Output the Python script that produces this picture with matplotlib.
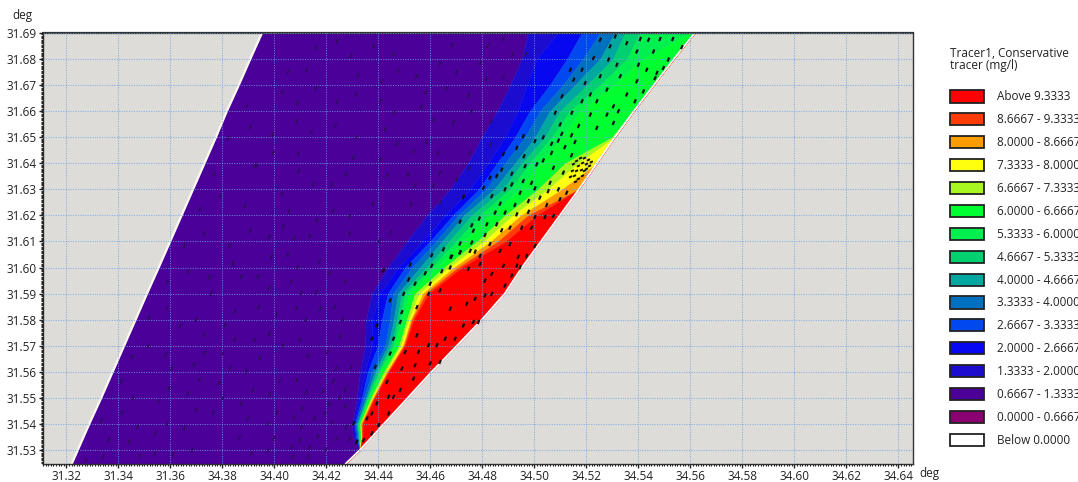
import matplotlib
matplotlib.use("Agg")
import matplotlib.pyplot as plt
from matplotlib.patches import Patch
from matplotlib.ticker import MultipleLocator

plt.rcParams['font.family'] = ['Open Sans', 'DejaVu Sans']

# latitude rows the contour edges were read at
lat_rows = [31.5248, 31.53, 31.535, 31.54, 31.55, 31.56, 31.57, 31.58, 31.59, 31.60,
            31.61, 31.62, 31.63, 31.64, 31.65, 31.66, 31.67, 31.68, 31.69]

west_edge = [34.3221, 34.3244, 34.3266, 34.3288, 34.3334, 34.3378, 34.3422, 34.3466, 34.3510, 34.3555,
             34.3599, 34.3643, 34.3687, 34.3731, 34.3775, 34.3817, 34.3863, 34.3907, 34.3952]
coast = [34.4275, 34.4329, 34.4375, 34.4421, 34.4513, 34.4605, 34.4702, 34.4798, 34.4886, 34.4952,
         34.5025, 34.5098, 34.5171, 34.5240, 34.5309, 34.5382, 34.5459, 34.5536, 34.5617]

# longitude of each isoline per row
iso_1333 = [34.4275, 34.4329, 34.4302, 34.4298, 34.4317, 34.4329, 34.4348, 34.4352, 34.4375, 34.4436,
            34.4509, 34.4586, 34.4675, 34.4744, 34.4798, 34.4856, 34.4906, 34.4952, 34.4975]
iso_2000 = [34.4275, 34.4329, 34.4309, 34.4306, 34.4329, 34.4348, 34.4375, 34.4375, 34.4406, 34.4475,
            34.4571, 34.4656, 34.4752, 34.4821, 34.4886, 34.4936, 34.4971, 34.5009, 34.5090]
iso_2667 = [34.4275, 34.4329, 34.4313, 34.4309, 34.4336, 34.4359, 34.4398, 34.4413, 34.4436, 34.4502,
            34.4598, 34.4686, 34.4786, 34.4856, 34.4925, 34.4982, 34.5059, 34.5125, 34.5182]
iso_3333 = [34.4275, 34.4329, 34.4317, 34.4313, 34.4344, 34.4375, 34.4425, 34.4444, 34.4456, 34.4529,
            34.4621, 34.4706, 34.4813, 34.4886, 34.4963, 34.5021, 34.5109, 34.5186, 34.5252]
iso_4000 = [34.4275, 34.4329, 34.4321, 34.4317, 34.4352, 34.4386, 34.4436, 34.4459, 34.4475, 34.4559,
            34.4644, 34.4729, 34.4844, 34.4925, 34.5002, 34.5059, 34.5155, 34.5252, 34.5309]
iso_4667 = [34.4275, 34.4329, 34.4325, 34.4321, 34.4356, 34.4394, 34.4448, 34.4471, 34.4490, 34.4586,
            34.4671, 34.4759, 34.4879, 34.4952, 34.5040, 34.5098, 34.5202, 34.5302, 34.5348]
iso_5333 = [34.4275, 34.4329, 34.4325, 34.4321, 34.4359, 34.4402, 34.4456, 34.4482, 34.4502, 34.4605,
            34.4698, 34.4790, 34.4906, 34.4982, 34.5067, 34.5136, 34.5252, 34.5356, 34.5406]
iso_6000 = [34.4275, 34.4329, 34.4329, 34.4325, 34.4363, 34.4409, 34.4463, 34.4494, 34.4517, 34.4625,
            34.4725, 34.4829, 34.4944, 34.5021, 34.5106, 34.5175, 34.5305, 34.5417, 34.5598]
iso_6667 = [34.4275, 34.4329, 34.4332, 34.4329, 34.4371, 34.4421, 34.4479, 34.4509, 34.4540, 34.4652,
            34.4779, 34.4886, 34.5013, 34.5117, 34.5298, 34.5382, 34.5459, 34.5536, 34.5617]
iso_7333 = [34.4275, 34.4329, 34.4332, 34.4332, 34.4375, 34.4429, 34.4486, 34.4517, 34.4556, 34.4671,
            34.4806, 34.4917, 34.5052, 34.5167, 34.5309, 34.5382, 34.5459, 34.5536, 34.5617]
iso_8000 = [34.4275, 34.4329, 34.4336, 34.4332, 34.4379, 34.4432, 34.4494, 34.4525, 34.4571, 34.4690,
            34.4832, 34.4948, 34.5106, 34.5240, 34.5309, 34.5382, 34.5459, 34.5536, 34.5617]
iso_8667 = [34.4275, 34.4329, 34.4336, 34.4336, 34.4382, 34.4436, 34.4498, 34.4529, 34.4582, 34.4706,
            34.4860, 34.4975, 34.5171, 34.5240, 34.5309, 34.5382, 34.5459, 34.5536, 34.5617]
iso_9333 = [34.4275, 34.4329, 34.4340, 34.4340, 34.4386, 34.4440, 34.4502, 34.4536, 34.4594, 34.4721,
            34.4890, 34.5009, 34.5171, 34.5240, 34.5309, 34.5382, 34.5459, 34.5536, 34.5617]

edges = [west_edge, iso_1333, iso_2000, iso_2667, iso_3333, iso_4000, iso_4667, iso_5333,
         iso_6000, iso_6667, iso_7333, iso_8000, iso_8667, iso_9333, coast]

band_labels = ["Above 9.3333", "8.6667 - 9.3333", "8.0000 - 8.6667", "7.3333 - 8.0000",
               "6.6667 - 7.3333", "6.0000 - 6.6667", "5.3333 - 6.0000", "4.6667 - 5.3333",
               "4.0000 - 4.6667", "3.3333 - 4.0000", "2.6667 - 3.3333", "2.0000 - 2.6667",
               "1.3333 - 2.0000", "0.6667 - 1.3333", "0.0000 - 0.6667", "Below 0.0000"]
band_colors = ["#ff0000", "#ff3c08", "#ff9c00", "#ffff10", "#a8f820", "#00ff30", "#00f050", "#00d070",
               "#00a8a0", "#0070c0", "#0048f0", "#0808f0", "#1c0cd0", "#4b0099", "#8b0070", "#ffffff"]

# velocity marks, open water
water_lon = [34.3655, 34.3828, 34.3988, 34.4052, 34.3841, 34.4090, 34.4173, 34.3668, 34.3751, 34.3873,
             34.3937, 34.4065, 34.4212, 34.4273, 34.3587, 34.3979, 34.3757, 34.4103, 34.4161, 34.3587,
             34.3847, 34.3939, 34.4084, 34.4176, 34.4231, 34.3517, 34.3700, 34.4007, 34.4122, 34.4263,
             34.3636, 34.3809, 34.3728, 34.3847, 34.3924, 34.3981, 34.4097, 34.4254, 34.3514, 34.4033,
             34.3453, 34.3582, 34.3732, 34.3802, 34.4129, 34.3943, 34.4203, 34.3691, 34.3830, 34.3892,
             34.3604, 34.4237, 34.4295, 34.3412, 34.3713, 34.3787, 34.4020, 34.4086, 34.4227, 34.3595,
             34.3917, 34.4122, 34.4186, 34.4273, 34.3668, 34.3457, 34.3555, 34.3802, 34.3981, 34.4250,
             34.3873, 34.4107, 34.4212, 34.4273, 34.3700, 34.3414, 34.3766, 34.4011, 34.4195, 34.3335,
             34.3587, 34.3472, 34.3655, 34.3898, 34.3975, 34.4075, 34.4154, 34.4222, 34.4276, 34.4103,
             34.3542, 34.3363, 34.3440, 34.3866, 34.4099, 34.4167, 34.4237, 34.4288, 34.3998, 34.3683,
             34.3911, 34.3975, 34.4065, 34.4135, 34.4199, 34.3341, 34.3482, 34.3540, 34.3610, 34.4071,
             34.4129, 34.3275,
             34.4159, 34.4241, 34.4296, 34.4382, 34.4459, 34.4053, 34.4124, 34.4322, 34.4415, 34.4476,
             34.4546, 34.4636, 34.4700, 34.4792, 34.4815, 34.4881, 34.4684, 34.4821, 34.4879, 34.4915,
             34.4966, 34.4031, 34.4158, 34.4313, 34.4408, 34.4089, 34.4241, 34.4582, 34.4747, 34.4661,
             34.4565, 34.4460, 34.4757, 34.4085, 34.4235, 34.4143, 34.4427, 34.4613, 34.4689, 34.4834,
             34.3993, 34.4313, 34.4584, 34.4472, 34.3996, 34.4092, 34.4305, 34.4408, 34.4536, 34.4629,
             34.4751, 34.4830, 34.4092, 34.4275, 34.4433, 34.4514, 34.4748, 34.4636, 34.3925, 34.4149,
             34.4222, 34.4542, 34.4613, 34.4702, 34.4030, 34.4380, 34.4524, 34.4638, 34.4729, 34.4056,
             34.4226, 34.4290, 34.4162, 34.4034, 34.4290, 34.4447, 34.3980, 34.4076, 34.4136, 34.4403,
             34.3895, 34.3907, 34.3822, 34.3768, 34.3791, 34.3714, 34.3887, 34.3729, 34.3907, 34.3930]
water_lat = [31.6084, 31.6084, 31.6042, 31.6049, 31.6016, 31.6001, 31.6024, 31.5986, 31.5963, 31.5965,
             31.5965, 31.5947, 31.5979, 31.5946, 31.5944, 31.5921, 31.5899, 31.5902, 31.5905, 31.5844,
             31.5831, 31.5848, 31.5844, 31.5842, 31.5848, 31.5807, 31.5801, 31.5820, 31.5800, 31.5803,
             31.5775, 31.5778, 31.5742, 31.5724, 31.5723, 31.5746, 31.5723, 31.5736, 31.5698, 31.5701,
             31.5657, 31.5666, 31.5672, 31.5672, 31.5663, 31.5654, 31.5676, 31.5627, 31.5615, 31.5602,
             31.5612, 31.5612, 31.5618, 31.5564, 31.5570, 31.5557, 31.5567, 31.5567, 31.5564, 31.5536,
             31.5529, 31.5523, 31.5525, 31.5532, 31.5517, 31.5500, 31.5487, 31.5500, 31.5514, 31.5500,
             31.5478, 31.5459, 31.5476, 31.5469, 31.5453, 31.5443, 31.5443, 31.5444, 31.5440, 31.5411,
             31.5402, 31.5389, 31.5383, 31.5421, 31.5402, 31.5425, 31.5421, 31.5406, 31.5389, 31.5386,
             31.5363, 31.5338, 31.5332, 31.5348, 31.5338, 31.5351, 31.5341, 31.5341, 31.5344, 31.5300,
             31.5287, 31.5297, 31.5312, 31.5310, 31.5302, 31.5274, 31.5278, 31.5287, 31.5284, 31.5274,
             31.5274, 31.5259,
             31.6844, 31.6869, 31.6813, 31.6851, 31.6820, 31.6752, 31.6758, 31.6737, 31.6714, 31.6756,
             31.6733, 31.6781, 31.6749, 31.6784, 31.6723, 31.6733, 31.6854, 31.6851, 31.6877, 31.6816,
             31.6818, 31.6672, 31.6688, 31.6663, 31.6640, 31.6633, 31.6637, 31.6672, 31.6660, 31.6688,
             31.6616, 31.6595, 31.6599, 31.6561, 31.6545, 31.6519, 31.6531, 31.6567, 31.6558, 31.6561,
             31.6510, 31.6500, 31.6484, 31.6474, 31.6440, 31.6437, 31.6423, 31.6414, 31.6446, 31.6440,
             31.6440, 31.6472, 31.6370, 31.6359, 31.6354, 31.6357, 31.6380, 31.6363, 31.6391, 31.6321,
             31.6319, 31.6316, 31.6316, 31.6338, 31.6283, 31.6245, 31.6242, 31.6248, 31.6271, 31.6217,
             31.6217, 31.6197, 31.6181, 31.6157, 31.6131, 31.6136, 31.6117, 31.6114, 31.6121, 31.6102,
             31.6623, 31.6539, 31.6497, 31.6359, 31.6275, 31.6225, 31.6237, 31.6130, 31.6141, 31.6390]

# velocity marks inside the plume
plume_lon = [34.4714, 34.4682, 34.4772, 34.4644, 34.4580, 34.4516, 34.4420, 34.4522, 34.4746, 34.4836,
             34.4810, 34.4945, 34.4913, 34.4887, 34.4836, 34.4810, 34.4599, 34.4541, 34.4445, 34.4497,
             34.4490, 34.4548, 34.4593, 34.4637, 34.4676, 34.4740, 34.4772, 34.4785, 34.4765, 34.4727,
             34.4657, 34.4695, 34.4625, 34.4593, 34.4548, 34.4484, 34.4458, 34.4394, 34.4375, 34.4503,
             34.4554, 34.4599, 34.4637, 34.4541, 34.4445, 34.4388, 34.4433, 34.4490, 34.4535, 34.4484,
             34.4439, 34.4394, 34.4458, 34.4375, 34.4356, 34.4401, 34.4439, 34.4305, 34.4375, 34.4317,
             34.4343,
             34.5105, 34.5034, 34.4957, 34.5143, 34.5066, 34.5002, 34.4932, 34.5156, 34.5117, 34.5092,
             34.5066, 34.5143, 34.4960, 34.5034, 34.4881, 34.4874, 34.4913, 34.4964, 34.5009, 34.5073,
             34.5111, 34.4829, 34.4855, 34.4913, 34.4957, 34.4989, 34.5060, 34.5092, 34.5053, 34.5002,
             34.4945, 34.4887, 34.4836, 34.4804, 34.4868, 34.4925, 34.4977, 34.5021, 34.5098, 34.5124,
             34.5047, 34.4977, 34.4932, 34.4887, 34.4849, 34.4788, 34.4727, 34.4759, 34.4714, 34.4817,
             34.4855, 34.4906, 34.5002, 34.5041, 34.5073, 34.4951, 34.4989, 34.4810, 34.4874, 34.4765,
             34.4829, 34.4759, 34.4714, 34.4650, 34.4906, 34.4791, 34.4753, 34.4714, 34.4678, 34.4605,
             34.4868, 34.4938, 34.5002, 34.4970, 34.4791, 34.4676, 34.4605, 34.4932, 34.4881,
             34.5253, 34.5311, 34.5355, 34.5407, 34.5439, 34.5483, 34.5532, 34.5567, 34.5394, 34.5291,
             34.5515, 34.5458, 34.5432, 34.5400, 34.5471, 34.5496, 34.5317, 34.5285, 34.5227, 34.5183,
             34.5138, 34.5253, 34.5330, 34.5394, 34.5464, 34.5195, 34.5106, 34.5151, 34.5215, 34.5279,
             34.5355, 34.5419, 34.5387, 34.5183, 34.5240, 34.5304, 34.5323, 34.5080, 34.5144, 34.5215,
             34.5279, 34.5099, 34.5170, 34.5240, 34.5304]
plume_lat = [31.6059, 31.6042, 31.6061, 31.5986, 31.5978, 31.5954, 31.5989, 31.6011, 31.5995, 31.5976,
             31.5950, 31.6001, 31.5969, 31.5931, 31.5899, 31.5893, 31.5938, 31.5938, 31.5874, 31.5899,
             31.5829, 31.5848, 31.5899, 31.5912, 31.5842, 31.5861, 31.5880, 31.5791, 31.5791, 31.5778,
             31.5727, 31.5727, 31.5702, 31.5702, 31.5740, 31.5791, 31.5727, 31.5778, 31.5727, 31.5676,
             31.5676, 31.5632, 31.5638, 31.5625, 31.5670, 31.5619, 31.5561, 31.5612, 31.5574, 31.5530,
             31.5504, 31.5479, 31.5504, 31.5440, 31.5421, 31.5396, 31.5440, 31.5402, 31.5364, 31.5332,
             31.5338,
             31.6513, 31.6500, 31.6504, 31.6508, 31.6475, 31.6485, 31.6459, 31.6482, 31.6462, 31.6487,
             31.6440, 31.6431, 31.6427, 31.6411, 31.6436, 31.6376, 31.6360, 31.6389, 31.6396, 31.6383,
             31.6364, 31.6345, 31.6351, 31.6319, 31.6332, 31.6325, 31.6325, 31.6300, 31.6293, 31.6304,
             31.6287, 31.6300, 31.6274, 31.6306, 31.6245, 31.6240, 31.6255, 31.6268, 31.6262, 31.6287,
             31.6240, 31.6214, 31.6204, 31.6211, 31.6211, 31.6188, 31.6271, 31.6162, 31.6176, 31.6166,
             31.6166, 31.6153, 31.6194, 31.6194, 31.6198, 31.6153, 31.6153, 31.6125, 31.6143, 31.6141,
             31.6090, 31.6096, 31.6092, 31.6070, 31.6090, 31.6045, 31.6064, 31.6058, 31.6041, 31.6047,
             31.6064, 31.6041, 31.6083, 31.6045, 31.6013, 31.6000, 31.6007, 31.6007, 31.6007,
             31.6874, 31.6887, 31.6861, 31.6877, 31.6874, 31.6877, 31.6877, 31.6846, 31.6829, 31.6849,
             31.6798, 31.6829, 31.6759, 31.6778, 31.6747, 31.6766, 31.6778, 31.6798, 31.6804, 31.6759,
             31.6759, 31.6734, 31.6734, 31.6715, 31.6727, 31.6708, 31.6657, 31.6721, 31.6664, 31.6683,
             31.6664, 31.6676, 31.6638, 31.6638, 31.6638, 31.6619, 31.6600, 31.6594, 31.6594, 31.6587,
             31.6587, 31.6549, 31.6543, 31.6536, 31.6555]

# tight eddy at the outfall
eddy_lon = [34.5150, 34.5162, 34.5177, 34.5192, 34.5208, 34.5219, 34.5169, 34.5185, 34.5200, 34.5162,
            34.5154, 34.5169, 34.5185, 34.5181, 34.5192, 34.5146, 34.5139, 34.5158, 34.5212, 34.5200]
eddy_lat = [31.6397, 31.6409, 31.6420, 31.6420, 31.6413, 31.6405, 31.6390, 31.6401, 31.6397, 31.6371,
            31.6352, 31.6340, 31.6352, 31.6374, 31.6371, 31.6371, 31.6348, 31.6329, 31.6390, 31.6378]

x_ticks = [34.32, 34.34, 34.36, 34.38, 34.40, 34.42, 34.44, 34.46, 34.48, 34.50,
           34.52, 34.54, 34.56, 34.58, 34.60, 34.62, 34.64]
x_labels = ["31.32", "31.34", "31.36", "34.38", "34.40", "34.42", "34.44", "34.46", "34.48", "34.50",
            "34.52", "34.54", "34.56", "34.58", "34.60", "34.62", "34.64"]
y_ticks = [31.53, 31.54, 31.55, 31.56, 31.57, 31.58, 31.59, 31.60, 31.61, 31.62,
           31.63, 31.64, 31.65, 31.66, 31.67, 31.68, 31.69]


def draw_marks(ax, lon, lat, u, v, width, color):
    ax.quiver(lon, lat, u, v, angles="uv", units="dots", scale_units="dots", scale=1, width=width,
              headwidth=1, headlength=0, headaxislength=0, pivot="mid", color=color, zorder=3)


def main():
    fig = plt.figure(figsize=(10.78, 4.82), dpi=100)
    ax = fig.add_axes([42.5 / 1078, 1 - 463.5 / 482, (913 - 42.5) / 1078, (463.5 - 33) / 482])
    ax.set_facecolor("#dedcd9")

    # lowest band is the west-most, so walk the colours backwards
    contour_colors = band_colors[:-2][::-1]
    for i, color in enumerate(contour_colors):
        ax.fill_betweenx(lat_rows, edges[i], edges[i + 1], color=color, lw=0.3, zorder=1)

    ax.plot(west_edge, lat_rows, color="#fbfbf0", lw=1.6, zorder=2)
    ax.plot(coast, lat_rows, color="#f4fbfb", lw=1.4, zorder=2)

    draw_marks(ax, water_lon, water_lat, 2.0, 4.5, 1.6, "#2c1058")
    draw_marks(ax, plume_lon, plume_lat, 1.7, 4.0, 2.2, "#101010")
    draw_marks(ax, eddy_lon, eddy_lat, 3.0, 1.5, 2.0, "#181408")

    ax.set_xlim(34.3108, 34.6456)
    ax.set_ylim(31.5248, 31.69)
    ax.set_xticks(x_ticks)
    ax.set_xticklabels(x_labels)
    ax.set_yticks(y_ticks)
    ax.set_yticklabels([f"{t:.2f}" for t in y_ticks])
    ax.xaxis.set_minor_locator(MultipleLocator(0.001))
    ax.yaxis.set_minor_locator(MultipleLocator(0.0005))
    ax.tick_params(axis="y", which="major", length=3, width=1, pad=1, labelsize=8.5, colors="#222222")
    ax.tick_params(axis="x", which="major", length=3, width=1, pad=1.5, labelsize=8.5, colors="#222222")
    ax.tick_params(which="minor", length=1.5, width=0.8, color="#222222")
    ax.set_axisbelow(False)
    ax.grid(True, which="major", color="#6ba6e2", lw=0.8, ls=(0, (1, 1.2)), alpha=0.75, zorder=4)
    for spine in ax.spines.values():
        spine.set_color("#333333")
        spine.set_linewidth(1.0)
    ax.spines["top"].set_linewidth(1.6)

    fig.text(12 / 1078, 1 - 15 / 482, "deg", fontsize=8.5, va="center", color="#222222")
    fig.text(919 / 1078, 1 - 473 / 482, "deg", fontsize=8.5, va="center", color="#222222")

    handles = [Patch(facecolor=c, edgecolor="#222222", lw=1.3) for c in band_colors]
    leg = fig.legend(handles=handles, labels=band_labels, title="Tracer1, Conservative\ntracer (mg/l)",
                     loc="upper left", bbox_to_anchor=(950 / 1078, 1 - 47 / 482), frameon=False,
                     borderpad=0, borderaxespad=0, fontsize=8.5, title_fontsize=8.5, alignment="left",
                     handlelength=2.9, handleheight=1.2, handletextpad=1.05, labelspacing=0.835)
    leg._legend_box.sep = 12.9
    for text in leg.get_texts():
        text.set_color("#222222")
    leg.get_title().set_color("#222222")
    leg.get_title().set_linespacing(0.95)

    fig.savefig("out.png", dpi=100)
    plt.close(fig)


if __name__ == "__main__":
    main()
